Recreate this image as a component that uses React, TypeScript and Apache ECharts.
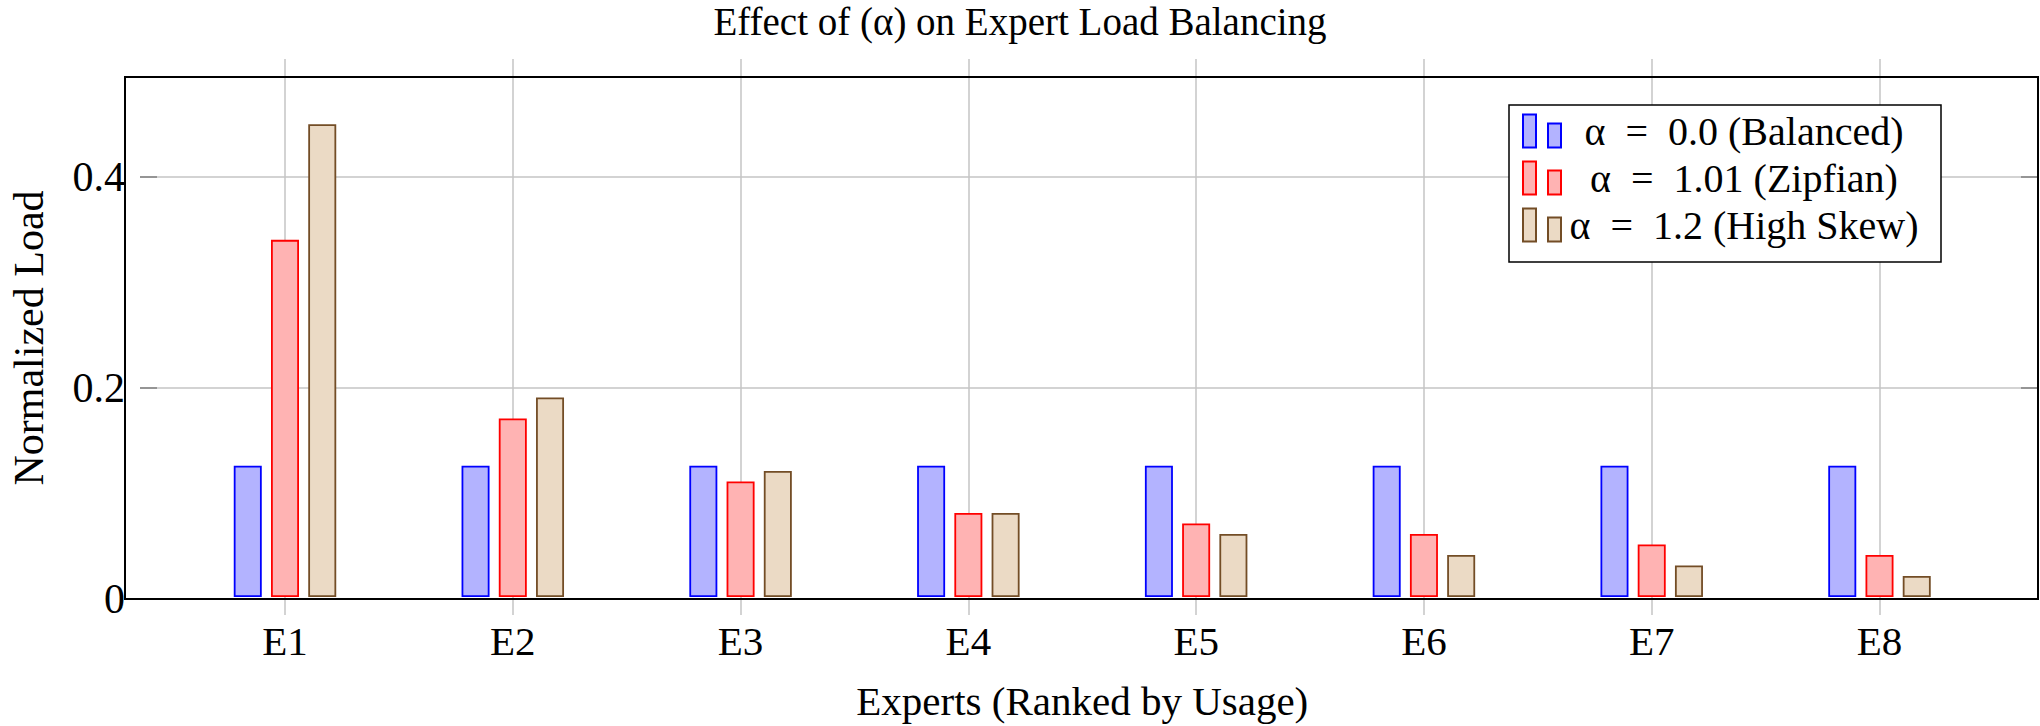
import React, { useEffect, useRef } from 'react';
import * as echarts from 'echarts';

const categories = ['E1', 'E2', 'E3', 'E4', 'E5', 'E6', 'E7', 'E8'];
const balanced = [0.125, 0.125, 0.125, 0.125, 0.125, 0.125, 0.125, 0.125];
const zipfian = [0.34, 0.17, 0.11, 0.08, 0.07, 0.06, 0.05, 0.04];
const highSkew = [0.45, 0.19, 0.12, 0.08, 0.06, 0.04, 0.03, 0.02];
const seriesNames = [
  'α\u2002=\u20020.0 (Balanced)',
  'α\u2002=\u20021.01 (Zipfian)',
  'α\u2002=\u20021.2 (High Skew)',
];
const yTickLabels = [0, 0.2, 0.4];
const yMax = 0.495;

const FONT = '"Liberation Serif", "Times New Roman", serif';
const GRID_COLOR = '#c4c4c4';

export default function App() {
  const ref = useRef<HTMLDivElement>(null);

  useEffect(() => {
    if (!ref.current) return;
    const chart = echarts.init(ref.current, undefined, { renderer: 'svg' });

    const fills = ['#b3b3ff', '#ffb3b3', '#ebdac5'];
    const borders = ['#0000ff', '#ff0000', '#734d26'];
    const values = [balanced, zipfian, highSkew];

    const option: any = {
      animation: false,
      backgroundColor: '#ffffff',
      title: {
        text: 'Effect of (α) on Expert Load Balancing',
        left: 'center',
        top: 2,
        padding: 0,
        textStyle: { fontFamily: FONT, fontSize: 39, fontWeight: 'normal', color: '#000' },
      },
      legend: {
        orient: 'vertical',
        left: 1509,
        top: 105,
        backgroundColor: '#ffffff',
        borderColor: '#000',
        borderWidth: 1.5,
        padding: [6, 19, 17, 13],
        itemGap: 7,
        itemWidth: 38,
        itemHeight: 33,
        icon: 'path://M0,0H13V33H0ZM25,9H38V33H25Z',
        data: seriesNames,
        formatter: '{t|{name}}',
        textStyle: {
          fontFamily: FONT,
          fontSize: 40,
          color: '#000',
          rich: {
            t: { width: 356, align: 'center', fontFamily: FONT, fontSize: 40, lineHeight: 44, color: '#000' },
          },
        },
      },
      grid: [
        { left: 125, right: 2, top: 77, bottom: 127, show: false },
        { left: 285, right: 160.5, top: 77, bottom: 127, show: false },
      ],
      xAxis: [
        { gridIndex: 0, type: 'value', min: 0, max: 1, show: false },
        {
          gridIndex: 1,
          type: 'category',
          data: categories,
          boundaryGap: false,
          position: 'bottom',
          axisLine: { show: false },
          axisTick: { show: true, length: 18, lineStyle: { color: GRID_COLOR, width: 1.5 } },
          axisLabel: { fontFamily: FONT, fontSize: 41, color: '#000', margin: 23 },
          splitLine: { show: true, lineStyle: { color: GRID_COLOR, width: 1.5 } },
          name: 'Experts (Ranked by Usage)',
          nameLocation: 'middle',
          nameGap: 83,
          nameTextStyle: { fontFamily: FONT, fontSize: 41, color: '#000' },
        },
        {
          gridIndex: 1,
          type: 'category',
          data: categories,
          boundaryGap: false,
          position: 'top',
          axisLine: { show: false },
          axisTick: { show: true, length: 18, lineStyle: { color: GRID_COLOR, width: 1.5 } },
          axisLabel: { show: false },
          splitLine: { show: false },
        },
      ],
      yAxis: [
        {
          gridIndex: 0,
          type: 'value',
          min: 0,
          max: yMax,
          interval: 0.2,
          axisLine: { show: false },
          axisTick: { show: true, inside: true, length: 17, lineStyle: { color: '#808080', width: 1.5 } },
          axisLabel: {
            fontFamily: FONT,
            fontSize: 42,
            color: '#000',
            margin: 15,
            showMaxLabel: false,
            formatter: (v: number) => {
              const hit = yTickLabels.find((t) => Math.abs(t - v) < 1e-9);
              return hit === undefined ? '' : String(hit);
            },
          },
          splitLine: { show: true, lineStyle: { color: GRID_COLOR, width: 1.5 } },
          name: 'Normalized Load',
          nameLocation: 'middle',
          nameGap: 90,
          nameTextStyle: { fontFamily: FONT, fontSize: 42, color: '#000' },
        },
        {
          gridIndex: 0,
          type: 'value',
          position: 'right',
          min: 0,
          max: yMax,
          interval: 0.2,
          axisLine: { show: false },
          axisTick: { show: true, inside: true, length: 17, lineStyle: { color: '#808080', width: 1.5 } },
          axisLabel: { show: false },
          splitLine: { show: false },
        },
        { gridIndex: 1, type: 'value', min: 0, max: yMax, show: false },
      ],
      graphic: [
        {
          type: 'rect',
          silent: true,
          z: 50,
          shape: { x: 125, y: 77, width: 1913, height: 522 },
          style: { fill: 'none', stroke: '#000', lineWidth: 2 },
        },
      ],
      series: seriesNames.map((name, i) => ({
        name,
        type: 'bar',
        xAxisIndex: 1,
        yAxisIndex: 2,
        data: values[i],
        barWidth: 28,
        barGap: '33%',
        clip: false,
        itemStyle: { color: fills[i], borderColor: borders[i], borderWidth: 1.8 },
      })),
    };

    chart.setOption(option);
    return () => chart.dispose();
  }, []);

  return (
    <div
      ref={ref}
      style={{ position: 'fixed', left: 0, top: 0, width: 2040, height: 726, background: '#fff' }}
    />
  );
}
